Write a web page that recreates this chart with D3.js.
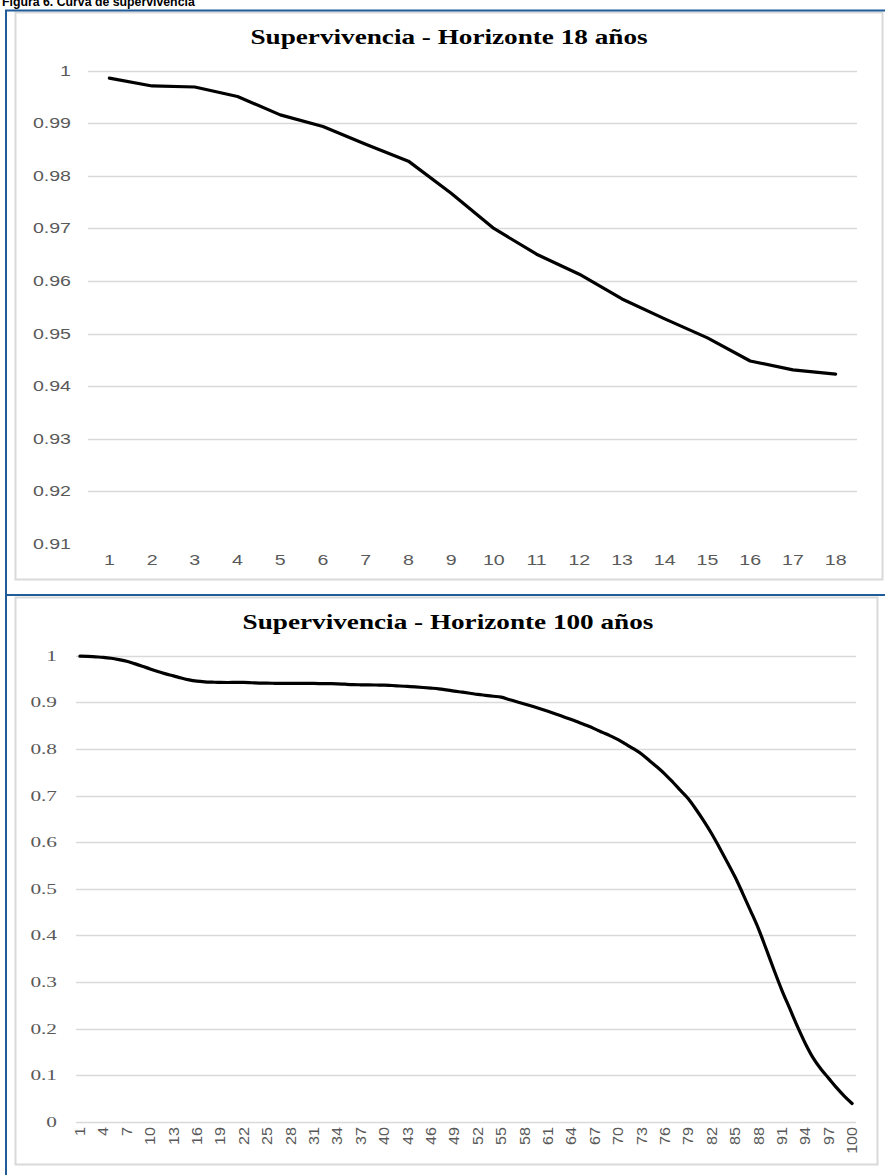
<!DOCTYPE html>
<html>
<head>
<meta charset="utf-8">
<script src="https://cdn.jsdelivr.net/npm/d3@7"></script>
<style>
  html, body { margin: 0; padding: 0; background: #fff; }
  svg { display: block; }
</style>
</head>
<body>
<svg id="fig" width="885" height="1175"></svg>
<script>
// ---- Data ----------------------------------------------------------------
const captionText = "Figura 6. Curva de supervivencia";
const title18 = "Supervivencia - Horizonte 18 años";
const title100 = "Supervivencia - Horizonte 100 años";

const years18 = d3.range(1, 19);
const survival18 = [
  0.9986, 0.9971, 0.9969, 0.9951, 0.9916, 0.9894, 0.9860, 0.9828, 0.9767,
  0.9700, 0.9651, 0.9613, 0.9566, 0.9528, 0.9492, 0.9448, 0.9431, 0.9423
];
const yTicks18 = [1, 0.99, 0.98, 0.97, 0.96, 0.95, 0.94, 0.93, 0.92, 0.91];
const yLabels18 = ["1", "0.99", "0.98", "0.97", "0.96", "0.95", "0.94", "0.93", "0.92", "0.91"];

const years100 = d3.range(1, 101);
const survival100 = [
  0.9990, 0.9985, 0.9975, 0.9965, 0.9945, 0.9915, 0.9880, 0.9830, 0.9775, 0.9716,
  0.9660, 0.9610, 0.9567, 0.9520, 0.9480, 0.9454, 0.9440, 0.9432, 0.9426, 0.9425,
  0.9426, 0.9426, 0.9420, 0.9413, 0.9410, 0.9408, 0.9406, 0.9404, 0.9404, 0.9404,
  0.9404, 0.9402, 0.9400, 0.9397, 0.9388, 0.9380, 0.9376, 0.9373, 0.9371, 0.9369,
  0.9360, 0.9350, 0.9340, 0.9330, 0.9318, 0.9305, 0.9290, 0.9266, 0.9240, 0.9218,
  0.9195, 0.9170, 0.9150, 0.9130, 0.9110, 0.9062, 0.9012, 0.8964, 0.8915, 0.8862,
  0.8807, 0.8750, 0.8690, 0.8630, 0.8565, 0.8500, 0.8430, 0.8355, 0.8280, 0.8200,
  0.8100, 0.8000, 0.7890, 0.7750, 0.7610, 0.7460, 0.7290, 0.7110, 0.6930, 0.6700,
  0.6450, 0.6180, 0.5880, 0.5570, 0.5250, 0.4890, 0.4520, 0.4140, 0.3700, 0.3250,
  0.2820, 0.2430, 0.2040, 0.1680, 0.1370, 0.1130, 0.0930, 0.0730, 0.0550, 0.0390
];
const yTicks100 = [1, 0.9, 0.8, 0.7, 0.6, 0.5, 0.4, 0.3, 0.2, 0.1, 0];
const yLabels100 = ["1", "0.9", "0.8", "0.7", "0.6", "0.5", "0.4", "0.3", "0.2", "0.1", "0"];
const xLabels100 = years100.filter(d => (d - 1) % 3 === 0);

// ---- Styling -------------------------------------------------------------
const BLUE = "#1f5c99";
const FRAME = "#d9d9d9";
const GRID = "#d9d9d9";
const LABEL = "#595959";
const SANS = "'Liberation Sans', Arial, sans-serif";
const SERIF = "'Liberation Serif', 'Times New Roman', serif";

const svg = d3.select("#fig");

// Caption above the panels
svg.append("text")
  .attr("x", 2).attr("y", 6)
  .attr("font-family", SANS).attr("font-weight", "bold")
  .attr("font-size", 12.3).attr("fill", "#000")
  .text(captionText);

// Panel frames
svg.append("rect").attr("x", 15.5).attr("y", 12.5).attr("width", 867).attr("height", 567)
  .attr("fill", "#fff").attr("stroke", FRAME).attr("stroke-width", 2);
svg.append("rect").attr("x", 15.5).attr("y", 597.5).attr("width", 862).attr("height", 567)
  .attr("fill", "#fff").attr("stroke", FRAME).attr("stroke-width", 2);

// Outer blue rules
svg.append("line").attr("x1", 6).attr("x2", 6).attr("y1", 10).attr("y2", 1175)
  .attr("stroke", BLUE).attr("stroke-width", 2);
svg.append("line").attr("x1", 5).attr("x2", 885).attr("y1", 10.5).attr("y2", 10.5)
  .attr("stroke", BLUE).attr("stroke-width", 2);
svg.append("line").attr("x1", 5).attr("x2", 885).attr("y1", 595).attr("y2", 595)
  .attr("stroke", BLUE).attr("stroke-width", 2);

// Horizontally widened text, anchored at (x, y)
function wideText(g, x, y, str, opts) {
  return g.append("text")
    .attr("transform", `translate(${x},${y}) scale(${opts.sx || 1},1)`)
    .attr("text-anchor", opts.anchor || "start")
    .attr("dominant-baseline", opts.baseline || "auto")
    .attr("font-family", opts.family)
    .attr("font-size", opts.size)
    .attr("font-weight", opts.weight || "normal")
    .attr("fill", opts.fill)
    .text(str);
}

// ---- Panel 1: 18-year horizon ------------------------------------------
{
  const g = svg.append("g");
  const x = d3.scaleBand().domain(years18).range([88, 857]);
  const y = d3.scaleLinear().domain([0.91, 1]).range([544, 70.7]);
  const cx = d => x(d) + x.bandwidth() / 2;

  wideText(g, 449, 44, title18, { sx: 1.36, anchor: "middle", family: SERIF, size: 20, weight: "bold", fill: "#000" });

  g.selectAll(".grid").data(yTicks18.filter(t => t > 0.91)).join("line")
    .attr("x1", 88).attr("x2", 857)
    .attr("y1", d => Math.round(y(d)) + 0.5).attr("y2", d => Math.round(y(d)) + 0.5)
    .attr("stroke", GRID).attr("stroke-width", 1.3);

  yTicks18.forEach((t, i) => {
    wideText(g, 71, y(t) + 5, yLabels18[i], { sx: 1.4, anchor: "end", family: SANS, size: 14, fill: LABEL });
  });
  years18.forEach(d => {
    wideText(g, cx(d), 565, String(d), { sx: 1.4, anchor: "middle", family: SANS, size: 14, fill: LABEL });
  });

  const line = d3.line().x((v, i) => cx(years18[i])).y(v => y(v)).curve(d3.curveLinear);
  g.append("path").datum(survival18)
    .attr("d", line).attr("fill", "none")
    .attr("stroke", "#000").attr("stroke-width", 3.2)
    .attr("stroke-linejoin", "round").attr("stroke-linecap", "round");
}

// ---- Panel 2: 100-year horizon -----------------------------------------
{
  const g = svg.append("g");
  const x = d3.scaleBand().domain(years100).range([76, 856]);
  const y = d3.scaleLinear().domain([0, 1]).range([1121.7, 655.7]);
  const cx = d => x(d) + x.bandwidth() / 2;

  wideText(g, 448, 629, title100, { sx: 1.36, anchor: "middle", family: SERIF, size: 20, weight: "bold", fill: "#000" });

  g.selectAll(".grid").data(yTicks100).join("line")
    .attr("x1", 76).attr("x2", 856)
    .attr("y1", d => Math.round(y(d)) + 0.5).attr("y2", d => Math.round(y(d)) + 0.5)
    .attr("stroke", GRID).attr("stroke-width", 1.3);

  yTicks100.forEach((t, i) => {
    wideText(g, 57, y(t) + 5, yLabels100[i], { sx: 1.42, anchor: "end", family: SERIF, size: 15, fill: LABEL });
  });

  g.selectAll(".xlab").data(xLabels100).join("text")
    .attr("transform", d => `translate(${cx(d) + 5},1127) scale(1,1.15) rotate(-90)`)
    .attr("text-anchor", "end")
    .attr("font-family", SANS).attr("font-size", 14).attr("fill", LABEL)
    .text(d => d);

  const line = d3.line().x((v, i) => cx(years100[i])).y(v => y(v)).curve(d3.curveMonotoneX);
  g.append("path").datum(survival100)
    .attr("d", line).attr("fill", "none")
    .attr("stroke", "#000").attr("stroke-width", 3.2)
    .attr("stroke-linejoin", "round").attr("stroke-linecap", "round");
}
</script>
</body>
</html>
